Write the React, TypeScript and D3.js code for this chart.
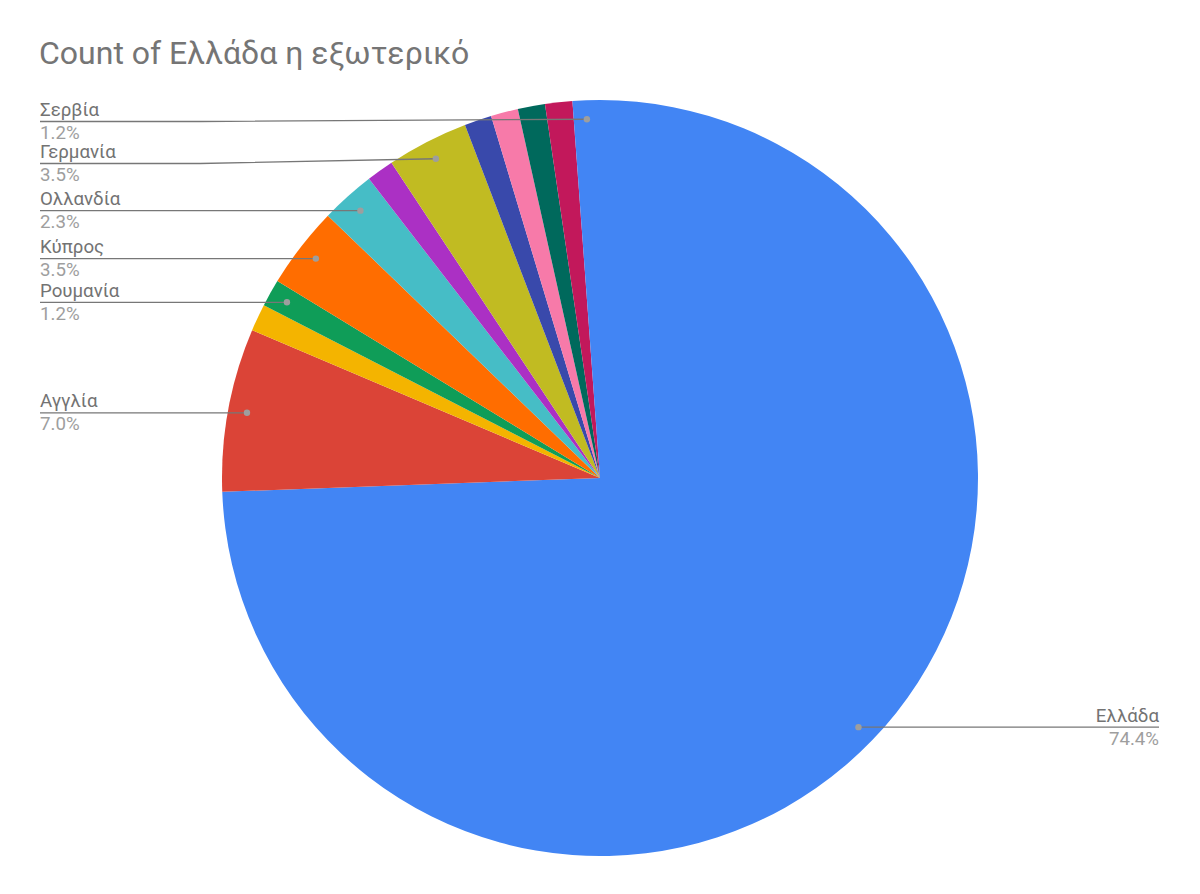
import React from "react";
import * as d3 from "d3";

const TITLE = "Count of Ελλάδα η εξωτερικό";
// slice order as in the data (clockwise from 12 o'clock); "" = label not shown in the original
const categories = ["Ελλάδα", "Αγγλία", "", "Ρουμανία", "Κύπρος", "Ολλανδία", "", "Γερμανία", "", "", "", "", "Σερβία"];
const counts = [64, 6, 1, 1, 3, 2, 1, 3, 1, 1, 1, 1, 1];
const palette = [
  "#4285f4", "#db4437", "#f4b400", "#0f9d58", "#ff6d00", "#46bdc6",
  "#ab30c4", "#c1bb22", "#3949ab", "#f77aa9", "#00695c", "#c2185b",
];

const W = 1200;
const H = 894;
const CX = 600;
const CY = 478;
const R = 378;
const DOT_R = 359;
const LEFT_X = 40;
const RIGHT_X = 1159;

export default function App() {
  const total = d3.sum(counts);
  const pie = d3.pie<number>().sort(null).value((d) => d)(counts);
  const arc = d3.arc<d3.PieArcDatum<number>>().innerRadius(0).outerRadius(R);

  type Lab = { name: string; pct: string; dx: number; dy: number; side: "l" | "r"; ly: number };
  const labs: Lab[] = [];
  pie.forEach((p, i) => {
    if (!categories[i]) return;
    const a = (p.startAngle + p.endAngle) / 2;
    const dx = CX + DOT_R * Math.sin(a);
    const dy = CY - DOT_R * Math.cos(a);
    labs.push({
      name: categories[i],
      pct: ((counts[i] / total) * 100).toFixed(1) + "%",
      dx,
      dy,
      side: Math.sin(a) < 0 ? "l" : "r",
      ly: dy,
    });
  });
  // simple collision avoidance for the left column
  const left = labs.filter((l) => l.side === "l").sort((a, b) => a.dy - b.dy);
  let prev = -Infinity;
  left.forEach((l, i) => {
    const y = Math.max(l.dy, i === 0 ? 121.5 : prev + 42);
    l.ly = y;
    prev = y;
  });

  const nameColor = "#737373";
  const pctColor = "#9e9e9e";

  return (
    <svg
      width={W}
      height={H}
      style={{ position: "absolute", left: 0, top: 0, display: "block", background: "#fff" }}
      fontFamily="Roboto, 'Noto Sans', sans-serif"
    >
      <rect width={W} height={H} fill="#fff" />
      <text x={39} y={64} fontSize={32} fill="#757575">
        {TITLE}
      </text>
      <g transform={`translate(${CX},${CY})`}>
        {pie.map((p, i) => (
          <path key={i} d={arc(p) || ""} fill={palette[i % palette.length]} />
        ))}
      </g>
      {labs.map((l, i) => {
        const isLeft = l.side === "l";
        const tx = isLeft ? LEFT_X : RIGHT_X;
        const anchor = isLeft ? "start" : "end";
        const pts = isLeft
          ? [[LEFT_X, l.ly], [200, l.ly], [l.dx, l.dy]]
          : [[l.dx, l.dy], [RIGHT_X, l.ly]];
        return (
          <g key={i}>
            <polyline
              points={pts.map((p) => p.join(",")).join(" ")}
              fill="none"
              stroke="#777"
              strokeWidth={1.3}
            />
            <circle cx={l.dx} cy={l.dy} r={3.2} fill="#9e9e9e" />
            <text x={tx} y={l.ly - 5.6} fontSize={18.7} fill={nameColor} textAnchor={anchor}>
              {l.name}
            </text>
            <text x={tx} y={l.ly + 17.6} fontSize={18.7} fill={pctColor} textAnchor={anchor}>
              {l.pct}
            </text>
          </g>
        );
      })}
    </svg>
  );
}
